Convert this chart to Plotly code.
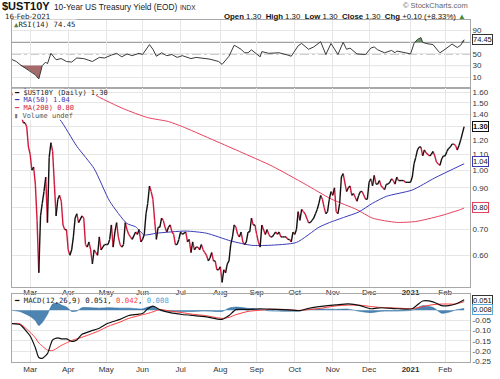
import math
import plotly.graph_objects as go

# ---------------- data ----------------
CLOSE = [
 ("2020-02-14",1.59),("2020-02-18",1.56),("2020-02-19",1.57),("2020-02-20",1.52),("2020-02-21",1.47),
 ("2020-02-24",1.38),("2020-02-25",1.33),("2020-02-26",1.33),("2020-02-27",1.30),("2020-02-28",1.15),
 ("2020-03-02",1.10),("2020-03-03",1.00),("2020-03-04",1.02),("2020-03-05",0.92),("2020-03-06",0.74),
 ("2020-03-09",0.54),("2020-03-10",0.76),("2020-03-11",0.82),("2020-03-12",0.88),("2020-03-13",0.96),
 ("2020-03-16",0.73),("2020-03-17",1.08),("2020-03-18",1.18),("2020-03-19",1.12),("2020-03-20",0.92),
 ("2020-03-23",0.76),("2020-03-24",0.84),("2020-03-25",0.86),("2020-03-26",0.83),("2020-03-27",0.72),
 ("2020-03-30",0.70),("2020-03-31",0.70),
 ("2020-04-01",0.62),("2020-04-02",0.60),("2020-04-03",0.62),("2020-04-06",0.67),("2020-04-07",0.75),
 ("2020-04-08",0.77),("2020-04-09",0.73),("2020-04-13",0.76),("2020-04-14",0.75),("2020-04-15",0.64),
 ("2020-04-16",0.63),("2020-04-17",0.65),("2020-04-20",0.62),("2020-04-21",0.57),("2020-04-22",0.62),
 ("2020-04-23",0.61),("2020-04-24",0.60),("2020-04-27",0.67),("2020-04-28",0.62),("2020-04-29",0.63),
 ("2020-04-30",0.64),
 ("2020-05-01",0.64),("2020-05-04",0.64),("2020-05-05",0.66),("2020-05-06",0.72),("2020-05-07",0.63),
 ("2020-05-08",0.69),("2020-05-11",0.73),("2020-05-12",0.67),("2020-05-13",0.64),("2020-05-14",0.63),
 ("2020-05-15",0.64),("2020-05-18",0.73),("2020-05-19",0.70),("2020-05-20",0.68),("2020-05-21",0.67),
 ("2020-05-22",0.66),("2020-05-26",0.69),("2020-05-27",0.68),("2020-05-28",0.70),("2020-05-29",0.65),
 ("2020-06-01",0.66),("2020-06-02",0.68),("2020-06-03",0.77),("2020-06-04",0.82),("2020-06-05",0.91),
 ("2020-06-08",0.88),("2020-06-09",0.84),("2020-06-10",0.74),("2020-06-11",0.66),("2020-06-12",0.71),
 ("2020-06-15",0.71),("2020-06-16",0.75),("2020-06-17",0.74),("2020-06-18",0.71),("2020-06-19",0.69),
 ("2020-06-22",0.71),("2020-06-23",0.72),("2020-06-24",0.69),("2020-06-25",0.68),("2020-06-26",0.64),
 ("2020-06-29",0.64),("2020-06-30",0.66),
 ("2020-07-01",0.69),("2020-07-02",0.68),("2020-07-06",0.69),("2020-07-07",0.65),("2020-07-08",0.66),
 ("2020-07-09",0.61),("2020-07-10",0.65),("2020-07-13",0.62),("2020-07-14",0.63),("2020-07-15",0.63),
 ("2020-07-16",0.62),("2020-07-17",0.64),("2020-07-20",0.62),("2020-07-21",0.61),("2020-07-22",0.60),
 ("2020-07-23",0.58),("2020-07-24",0.59),("2020-07-27",0.61),("2020-07-28",0.58),("2020-07-29",0.58),
 ("2020-07-30",0.55),("2020-07-31",0.55),
 ("2020-08-03",0.56),("2020-08-04",0.51),("2020-08-05",0.55),("2020-08-06",0.54),("2020-08-07",0.57),
 ("2020-08-10",0.58),("2020-08-11",0.64),("2020-08-12",0.67),("2020-08-13",0.72),("2020-08-14",0.71),
 ("2020-08-17",0.68),("2020-08-18",0.67),("2020-08-19",0.69),("2020-08-20",0.65),("2020-08-21",0.64),
 ("2020-08-24",0.65),("2020-08-25",0.69),("2020-08-26",0.69),("2020-08-27",0.75),("2020-08-28",0.72),
 ("2020-08-31",0.72),
 ("2020-09-01",0.68),("2020-09-02",0.65),("2020-09-03",0.63),("2020-09-04",0.72),("2020-09-08",0.68),
 ("2020-09-09",0.70),("2020-09-10",0.68),("2020-09-11",0.67),("2020-09-14",0.67),("2020-09-15",0.68),
 ("2020-09-16",0.69),("2020-09-17",0.68),("2020-09-18",0.69),("2020-09-21",0.67),("2020-09-22",0.67),
 ("2020-09-23",0.67),("2020-09-24",0.67),("2020-09-25",0.66),("2020-09-28",0.66),("2020-09-29",0.65),
 ("2020-09-30",0.69),
 ("2020-10-01",0.68),("2020-10-02",0.70),("2020-10-05",0.78),("2020-10-06",0.74),("2020-10-07",0.79),
 ("2020-10-08",0.78),("2020-10-09",0.77),("2020-10-13",0.73),("2020-10-14",0.73),("2020-10-15",0.74),
 ("2020-10-16",0.75),("2020-10-19",0.77),("2020-10-20",0.79),("2020-10-21",0.82),("2020-10-22",0.86),
 ("2020-10-23",0.84),("2020-10-26",0.80),("2020-10-27",0.77),("2020-10-28",0.78),("2020-10-29",0.84),
 ("2020-10-30",0.88),
 ("2020-11-02",0.86),("2020-11-03",0.90),("2020-11-04",0.78),("2020-11-05",0.77),("2020-11-06",0.82),
 ("2020-11-09",0.96),("2020-11-10",0.98),("2020-11-12",0.88),("2020-11-13",0.90),("2020-11-16",0.91),
 ("2020-11-17",0.86),("2020-11-18",0.87),("2020-11-19",0.85),("2020-11-20",0.83),("2020-11-23",0.86),
 ("2020-11-24",0.88),("2020-11-25",0.88),("2020-11-27",0.84),("2020-11-30",0.84),
 ("2020-12-01",0.93),("2020-12-02",0.95),("2020-12-03",0.91),("2020-12-04",0.97),("2020-12-07",0.92),
 ("2020-12-08",0.92),("2020-12-09",0.94),("2020-12-10",0.91),("2020-12-11",0.90),("2020-12-14",0.89),
 ("2020-12-15",0.92),("2020-12-16",0.92),("2020-12-17",0.93),("2020-12-18",0.95),("2020-12-21",0.94),
 ("2020-12-22",0.92),("2020-12-23",0.96),("2020-12-24",0.94),("2020-12-28",0.94),("2020-12-29",0.94),
 ("2020-12-30",0.93),("2020-12-31",0.93),
 ("2021-01-04",0.93),("2021-01-05",0.96),("2021-01-06",1.04),("2021-01-07",1.08),("2021-01-08",1.13),
 ("2021-01-11",1.15),("2021-01-12",1.15),("2021-01-13",1.09),("2021-01-14",1.13),("2021-01-15",1.11),
 ("2021-01-19",1.09),("2021-01-20",1.10),("2021-01-21",1.12),("2021-01-22",1.09),("2021-01-25",1.05),
 ("2021-01-26",1.04),("2021-01-27",1.03),("2021-01-28",1.07),("2021-01-29",1.09),
 ("2021-02-01",1.09),("2021-02-02",1.12),("2021-02-03",1.14),("2021-02-04",1.15),("2021-02-05",1.17),
 ("2021-02-08",1.17),("2021-02-09",1.16),("2021-02-10",1.13),("2021-02-11",1.16),("2021-02-12",1.20),
 ("2021-02-16",1.30),
]

MA50 = [
 ("2020-02-14",1.72),("2020-02-24",1.66),("2020-03-04",1.57),("2020-03-25",1.36),("2020-04-08",1.155),
 ("2020-04-22",1.01),("2020-05-05",0.83),("2020-05-19",0.726),("2020-05-26",0.712),("2020-06-02",0.678),
 ("2020-06-11",0.685),("2020-07-06",0.694),("2020-07-22",0.685),("2020-08-11",0.654),("2020-08-27",0.637),
 ("2020-09-10",0.637),("2020-10-02",0.648),("2020-10-21",0.71),("2020-10-29",0.73),("2020-11-11",0.755),
 ("2020-11-23",0.778),("2020-12-03",0.82),("2020-12-15",0.855),("2021-01-05",0.888),("2021-01-22",0.955),
 ("2021-02-16",1.04),
]

MA200 = [
 ("2020-04-23",1.57),("2020-04-27",1.55),("2020-05-15",1.447),("2020-06-04",1.372),("2020-06-22",1.34),
 ("2020-07-02",1.30),("2020-07-24",1.21),("2020-08-18",1.12),("2020-09-14",1.025),("2020-10-09",0.92),
 ("2020-10-30",0.842),("2020-11-20",0.789),("2020-12-03",0.75),("2020-12-23",0.731),("2021-01-07",0.735),
 ("2021-01-27",0.76),("2021-02-12",0.79),("2021-02-16",0.797),
]

RSI = [
 ("2020-02-14",41),("2020-02-19",37),("2020-02-21",32),("2020-02-26",26),("2020-03-02",21),("2020-03-05",14),
 ("2020-03-09",7),("2020-03-11",30),("2020-03-13",36),("2020-03-16",33),("2020-03-18",51),("2020-03-20",44),
 ("2020-03-23",40),("2020-03-26",42),("2020-03-31",37),("2020-04-03",36),("2020-04-08",43),("2020-04-14",42),
 ("2020-04-17",39),("2020-04-21",37),("2020-04-27",44),("2020-04-30",43),("2020-05-06",48),("2020-05-11",51),
 ("2020-05-14",45),("2020-05-19",50),("2020-05-22",47),("2020-05-28",51),("2020-06-01",49),("2020-06-05",66),
 ("2020-06-09",58),("2020-06-11",46),("2020-06-16",52),("2020-06-19",47),("2020-06-24",49),("2020-06-29",44),
 ("2020-07-02",47),("2020-07-09",42),("2020-07-14",44),("2020-07-20",43),("2020-07-24",41),("2020-07-31",37),
 ("2020-08-04",32),("2020-08-10",46),("2020-08-13",65),("2020-08-19",58),("2020-08-21",52),("2020-08-25",52),
 ("2020-08-27",57),("2020-09-03",45),("2020-09-04",54),("2020-09-10",51),("2020-09-18",52),("2020-09-25",48),
 ("2020-09-29",46),("2020-10-05",64),("2020-10-07",68),("2020-10-13",58),("2020-10-16",62),("2020-10-22",71),
 ("2020-10-26",58),("2020-10-27",49),("2020-10-30",68),("2020-11-05",49),("2020-11-10",70),("2020-11-12",58),
 ("2020-11-16",60),("2020-11-20",50),("2020-11-27",49),("2020-12-02",60),("2020-12-04",62),("2020-12-08",57),
 ("2020-12-14",52),("2020-12-18",56),("2020-12-22",52),("2020-12-23",55),("2020-12-30",52),("2021-01-04",50),
 ("2021-01-06",68),("2021-01-08",75),("2021-01-12",78),("2021-01-13",70),("2021-01-15",68),("2021-01-21",66),
 ("2021-01-26",55),("2021-01-27",52),("2021-02-01",58),("2021-02-05",67),("2021-02-10",61),("2021-02-12",65),
 ("2021-02-16",74.45),
]

# date, MACD, signal, histogram
MACD = [
 ("2020-02-14",-0.065,-0.065,0.000),("2020-02-21",-0.070,-0.066,-0.006),("2020-03-02",-0.126,-0.108,-0.030),
 ("2020-03-05",-0.183,-0.135,-0.050),("2020-03-09",-0.231,-0.160,-0.075),("2020-03-11",-0.235,-0.175,-0.060),
 ("2020-03-16",-0.212,-0.195,-0.020),("2020-03-19",-0.145,-0.197,0.030),("2020-03-24",-0.135,-0.183,0.035),
 ("2020-03-26",-0.140,-0.172,0.025),("2020-03-31",-0.140,-0.160,0.015),("2020-04-03",-0.152,-0.148,-0.006),
 ("2020-04-08",-0.145,-0.140,-0.004),("2020-04-13",-0.118,-0.132,0.012),("2020-04-20",-0.102,-0.117,0.012),
 ("2020-04-27",-0.088,-0.100,0.010),("2020-05-04",-0.064,-0.079,0.012),("2020-05-13",-0.045,-0.058,0.010),
 ("2020-05-20",-0.026,-0.040,0.010),("2020-06-01",-0.016,-0.022,0.006),("2020-06-04",0.007,-0.016,0.015),
 ("2020-06-09",0.020,-0.008,0.018),("2020-06-15",0.003,0.003,-0.002),("2020-06-23",-0.012,-0.004,-0.006),
 ("2020-07-02",-0.021,-0.012,-0.006),("2020-07-10",-0.026,-0.020,-0.006),("2020-07-21",-0.031,-0.026,-0.004),
 ("2020-08-04",-0.045,-0.040,-0.006),("2020-08-10",-0.026,-0.035,0.010),("2020-08-14",0.003,-0.022,0.015),
 ("2020-08-25",0.003,-0.006,0.009),("2020-09-03",0.007,0.000,0.004),("2020-09-10",0.005,0.004,-0.003),
 ("2020-09-22",0.003,0.004,-0.005),("2020-10-06",-0.002,-0.001,-0.004),("2020-10-12",0.007,0.002,0.003),
 ("2020-10-21",0.017,0.008,0.006),("2020-11-04",0.026,0.021,0.004),("2020-11-13",0.031,0.025,0.005),
 ("2020-11-24",0.022,0.024,-0.006),("2020-12-02",0.007,0.018,-0.012),("2020-12-10",0.012,0.013,-0.005),
 ("2020-12-24",0.007,0.010,-0.004),("2021-01-05",0.007,0.007,0.000),("2021-01-13",0.045,0.018,0.022),
 ("2021-01-21",0.041,0.027,0.013),("2021-01-28",0.022,0.030,-0.015),("2021-02-03",0.022,0.030,-0.010),
 ("2021-02-09",0.030,0.030,0.001),("2021-02-16",0.051,0.042,0.008),
]

month_ticks = ["2020-03-02","2020-04-01","2020-05-01","2020-06-01","2020-07-01","2020-08-03",
               "2020-09-01","2020-10-01","2020-11-02","2020-12-01","2021-01-04","2021-02-01"]
month_labels = ["Mar","Apr","May","Jun","Jul","Aug","Sep","Oct","Nov","Dec","<b>2021</b>","Feb"]
price_ticks = [0.6,0.7,0.8,0.9,1.0,1.1,1.2,1.3,1.4,1.5,1.6]
rsi_ticks = [10,30,50,90]
macd_ticks = [-0.25,-0.20,-0.15,-0.10,-0.05]

# ---------------- helpers ----------------
W, H = 500, 379
def px(x): return x / W
def py(y): return 1 - y / H

BLACK = "#111111"
RED = "#d0183c"
BLUE = "#3a3ab8"
MA200C = "#e8415f"
GRID = "#e6e6e6"
BORDER = "#a8a8a8"
TXT = "#333333"
SANS = "Liberation Sans"
VER = "DejaVu Sans"
MONO = "DejaVu Sans Mono"

c_d = [d for d, v in CLOSE]
c_v = [v for d, v in CLOSE]
up_x, up_y, dn_x, dn_y = [], [], [], []
for i in range(1, len(c_v)):
    if c_v[i] >= c_v[i-1]:
        up_x += [c_d[i-1], c_d[i], None]; up_y += [c_v[i-1], c_v[i], None]
    else:
        dn_x += [c_d[i-1], c_d[i], None]; dn_y += [c_v[i-1], c_v[i], None]

r_d = [d for d, v in RSI]
r_v = [v for d, v in RSI]
m_d = [r[0] for r in MACD]
m_m = [r[1] for r in MACD]
m_s = [r[2] for r in MACD]
m_h = [r[3] for r in MACD]

fig = go.Figure()
# RSI panel
fig.add_trace(go.Scatter(x=r_d, y=[30]*len(r_d), mode="lines", line=dict(width=0, color="rgba(0,0,0,0)"),
                         xaxis="x", yaxis="y", hoverinfo="skip"))
fig.add_trace(go.Scatter(x=r_d, y=[min(v, 30) for v in r_v], mode="lines", line=dict(width=0, color="rgba(0,0,0,0)"),
                         fill="tonexty", fillcolor="rgba(150,80,80,0.85)", xaxis="x", yaxis="y", hoverinfo="skip"))
fig.add_trace(go.Scatter(x=r_d, y=[70]*len(r_d), mode="lines", line=dict(width=0, color="rgba(0,0,0,0)"),
                         xaxis="x", yaxis="y", hoverinfo="skip"))
fig.add_trace(go.Scatter(x=r_d, y=[max(v, 70) for v in r_v], mode="lines", line=dict(width=0, color="rgba(0,0,0,0)"),
                         fill="tonexty", fillcolor="rgba(80,130,80,0.85)", xaxis="x", yaxis="y", hoverinfo="skip"))
fig.add_trace(go.Scatter(x=r_d, y=r_v, mode="lines", line=dict(width=1, color="#3a3a3a"), xaxis="x", yaxis="y"))

# main panel
ma50_d = [d for d, v in MA50]; ma50_v = [v for d, v in MA50]
ma200_d = [d for d, v in MA200]; ma200_v = [v for d, v in MA200]
fig.add_trace(go.Scatter(x=ma200_d, y=ma200_v, mode="lines", line=dict(width=1, color=MA200C, shape="spline", smoothing=0.6),
                         xaxis="x2", yaxis="y2"))
fig.add_trace(go.Scatter(x=ma50_d, y=ma50_v, mode="lines", line=dict(width=1, color=BLUE, shape="spline", smoothing=0.6),
                         xaxis="x2", yaxis="y2"))
fig.add_trace(go.Scatter(x=dn_x, y=dn_y, mode="lines", line=dict(width=1.4, color=RED), connectgaps=False,
                         xaxis="x2", yaxis="y2"))
fig.add_trace(go.Scatter(x=up_x, y=up_y, mode="lines", line=dict(width=1.4, color=BLACK), connectgaps=False,
                         xaxis="x2", yaxis="y2"))

# MACD panel
fig.add_trace(go.Scatter(x=m_d, y=m_h, mode="lines", line=dict(width=0.6, color="#2e6fa3", shape="spline", smoothing=0.5),
                         fill="tozeroy", fillcolor="rgba(46,111,163,0.85)", xaxis="x3", yaxis="y3"))
fig.add_trace(go.Scatter(x=m_d, y=m_s, mode="lines", line=dict(width=1, color="#ff3b3b", shape="spline", smoothing=0.6),
                         xaxis="x3", yaxis="y3"))
fig.add_trace(go.Scatter(x=m_d, y=m_m, mode="lines", line=dict(width=1.2, color=BLACK, shape="spline", smoothing=0.6),
                         xaxis="x3", yaxis="y3"))

xr = ["2020-02-14 12:00", "2021-02-19 09:00"]
xdom = [px(12), px(470)]
common_x = dict(domain=xdom, range=xr, rangebreaks=[dict(bounds=["sat", "mon"])], tickvals=month_ticks,
                ticktext=month_labels, showgrid=True, gridcolor=GRID, gridwidth=1, showline=True, mirror=True,
                linecolor=BORDER, linewidth=1, ticks="", zeroline=False,
                tickfont=dict(family=SANS, size=8, color=TXT))
common_y = dict(side="right", showgrid=True, gridcolor=GRID, showline=True, mirror=True, linecolor=BORDER,
                linewidth=1, ticks="", zeroline=False, tickfont=dict(family=SANS, size=8, color=TXT))

fig.update_layout(
    width=W, height=H, margin=dict(l=0, r=0, t=0, b=0), paper_bgcolor="white", plot_bgcolor="white",
    showlegend=False,
    xaxis=dict(common_x, anchor="y", showticklabels=False),
    xaxis2=dict(common_x, anchor="y2", matches="x", showticklabels=True, ticklabelstandoff=-3),
    xaxis3=dict(common_x, anchor="y3", matches="x", showticklabels=True, ticklabelstandoff=-1),
    yaxis=dict(common_y, domain=[py(89), py(20)], anchor="x", range=[-8.7, 108.7], tickvals=rsi_ticks),
    yaxis2=dict(common_y, domain=[py(290), py(89)], anchor="x2", type="log",
                range=[-0.3045, 0.2145], tickvals=price_ticks, tickformat=".2f"),
    yaxis3=dict(common_y, domain=[py(366), py(297)], anchor="x3", range=[-0.2536, 0.0797],
                tickvals=macd_ticks, ticktext=["-0.25", "-0.20", "-0.15", "-0.10", "-0.05"]),
)

shapes = []
for lvl, dash in [(30, "solid"), (70, "solid"), (50, "dashdot")]:
    shapes.append(dict(type="line", xref="x domain", yref="y", x0=0, x1=1, y0=lvl, y1=lvl,
                       line=dict(color="#8a8a8a", width=1, dash=dash), layer="below"))
# white backing behind the main-panel legend (hides the lines running under it)
shapes.append(dict(type="rect", xref="paper", yref="paper", x0=px(12.6), x1=px(64), y0=py(121), y1=py(89.6),
                   fillcolor="white", line=dict(width=0), layer="above"))
fig.update_layout(shapes=shapes)

ann = []
def text(x, y, t, size=8, family=SANS, color=TXT, anchor="left", **kw):
    ann.append(dict(x=px(x), y=py(y), xref="paper", yref="paper", text=t, showarrow=False,
                    xanchor=anchor, yanchor="middle", font=dict(size=size, family=family, color=color), **kw))

# header
text(1, 6.5, "<b>$UST10Y</b>", size=11, color="#111", borderpad=0)
text(53, 7.5, "10-Year US Treasury Yield (EOD)", size=8.3, color="#222", borderpad=0)
text(179, 8, "INDX", size=6.5, color="#222", borderpad=0)
text(469, 6, "© StockCharts.com", size=7.5, color="#666", anchor="right", borderpad=0)
text(4, 17, "16-Feb-2021", size=7.2, family=VER, color="#222", borderpad=0)
text(467, 16.5, "<b>Open</b> 1.30  <b>High</b> 1.30  <b>Low</b> 1.30  <b>Close</b> 1.30  <b>Chg</b> +0.10 (+8.33%) "
     "<span style='color:#3c8c3c'>▲</span>", size=7.8, color="#111", anchor="right", borderpad=0)

# RSI label
text(13, 25, "<span style='color:#5a7a4a'>▲</span>RSI(14) 74.45", size=7.3, family=MONO, color="#222",
     bgcolor="white", borderpad=0)

# main legend
LG = dict(size=7, family=MONO, borderpad=0)
text(13, 93.5, "<span style='color:#111'>━</span> $UST10Y (Daily) 1.30", color="#222", **LG)
text(13, 101.3, "<span style='color:#3a3ab8'>━</span> MA(50) 1.04", color="#3a3ab8", **LG)
text(13, 109.1, "<span style='color:#e8415f'>━</span> MA(200) 0.80", color="#d0183c", **LG)
text(13, 116.9, "<span style='color:#777'>▮</span> Volume undef", color="#555", **LG)

# MACD legend
text(13, 304, "<span style='color:#111'>━</span> MACD(12,26,9) 0.051, <span style='color:#ff3b3b'>0.042</span>, "
     "<span style='color:#4fa3d8'>0.008</span>", size=7.3, family=MONO, color="#222", borderpad=0)

fig.update_layout(annotations=ann)

# right-hand value tags
def tag(yref, yval, t, border, yshift=0, bold=False):
    fig.add_annotation(x=px(472), xref="paper", y=yval, yref=yref, text=("<b>%s</b>" % t) if bold else t,
                       showarrow=False, xanchor="left", yanchor="middle", yshift=yshift,
                       font=dict(size=7.5, family=SANS, color="#111"), bgcolor="white",
                       bordercolor=border, borderwidth=1, borderpad=0)

tag("y", r_v[-1], "74.45", "#333")
tag("y2", math.log10(c_v[-1]), "1.30", "#111", bold=True)
tag("y2", math.log10(ma50_v[-1]), "1.04", BLUE, yshift=2)
tag("y2", math.log10(0.80), "0.80", MA200C)
tag("y3", m_m[-1], "0.051", "#333", yshift=-1)
tag("y3", m_h[-1], "0.008", "#5aa6d6", yshift=-1)

fig.write_html("out.html", config={"displayModeBar": False},
               post_script="document.body.style.margin='0';document.body.style.overflow='hidden';")
